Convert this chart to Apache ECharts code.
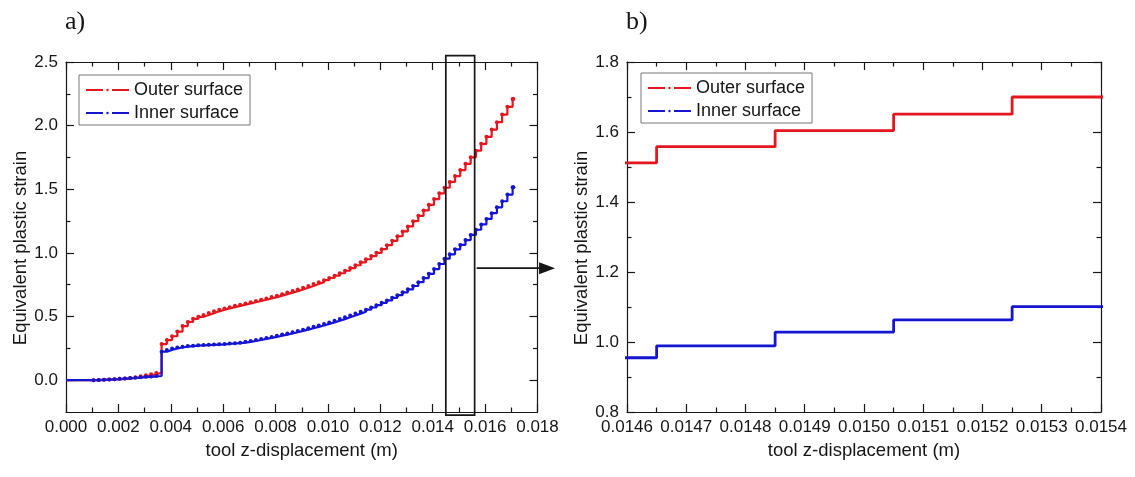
<!DOCTYPE html>
<html>
<head>
<meta charset="utf-8">
<script src="https://cdn.jsdelivr.net/npm/echarts@6/dist/echarts.min.js"></script>
<style>
  html, body { margin: 0; padding: 0; background: #fff; }
  #chart { width: 1135px; height: 477px; }
</style>
</head>
<body>
<div id="chart"></div>
<script>
// Tool z-displacement (m): start, pre-contact points, then one point per 0.2 mm step
const zDisp = [
  0, 0.00105, 0.00125, 0.00145, 0.00165, 0.00185, 0.00205, 0.00225, 0.00245, 0.00265, 0.00285, 0.00305, 0.00325, 0.00345,
  0.00365, 0.00385, 0.00405, 0.00425, 0.00445, 0.00465, 0.00485, 0.00505, 0.00525, 0.00545,
  0.00565, 0.00585, 0.00605, 0.00625, 0.00645, 0.00665, 0.00685, 0.00705, 0.00725, 0.00745,
  0.00765, 0.00785, 0.00805, 0.00825, 0.00845, 0.00865, 0.00885, 0.00905, 0.00925, 0.00945,
  0.00965, 0.00985, 0.01005, 0.01025, 0.01045, 0.01065, 0.01085, 0.01105, 0.01125, 0.01145,
  0.01165, 0.01185, 0.01205, 0.01225, 0.01245, 0.01265, 0.01285, 0.01305, 0.01325, 0.01345,
  0.01365, 0.01385, 0.01405, 0.01425, 0.01445, 0.01465, 0.01485, 0.01505, 0.01525, 0.01545,
  0.01565, 0.01585, 0.01605, 0.01625, 0.01645, 0.01665, 0.01685, 0.01705,
  0.01708
];

// Equivalent plastic strain on the outer surface
const outerStrain = [
  0, 0, 0.002, 0.004, 0.006, 0.008, 0.011, 0.014, 0.018, 0.023, 0.030, 0.038, 0.047, 0.057,
  0.284, 0.315, 0.345, 0.382, 0.425, 0.458, 0.482, 0.498, 0.512, 0.527,
  0.541, 0.553, 0.564, 0.574, 0.584, 0.593, 0.603, 0.612, 0.622, 0.632,
  0.642, 0.653, 0.664, 0.676, 0.688, 0.700, 0.713, 0.726, 0.740, 0.755,
  0.770, 0.786, 0.803, 0.821, 0.840, 0.860, 0.881, 0.903, 0.926, 0.950,
  0.975, 1.001, 1.029, 1.061, 1.095, 1.131, 1.169, 1.208, 1.249, 1.291,
  1.334, 1.378, 1.423, 1.468, 1.512, 1.558, 1.604, 1.651, 1.700, 1.751,
  1.803, 1.857, 1.912, 1.969, 2.027, 2.087, 2.148, 2.210,
  2.210
];

// Equivalent plastic strain on the inner surface
const innerStrain = [
  0, 0, 0.002, 0.004, 0.006, 0.008, 0.011, 0.014, 0.017, 0.020, 0.023, 0.026, 0.029, 0.033,
  0.224, 0.238, 0.249, 0.257, 0.263, 0.268, 0.271, 0.274, 0.276, 0.278,
  0.280, 0.282, 0.285, 0.288, 0.291, 0.295, 0.301, 0.308, 0.316, 0.324,
  0.332, 0.340, 0.349, 0.358, 0.367, 0.377, 0.387, 0.397, 0.408, 0.419,
  0.430, 0.442, 0.454, 0.467, 0.480, 0.494, 0.508, 0.523, 0.538, 0.554,
  0.571, 0.589, 0.608, 0.627, 0.647, 0.668, 0.690, 0.714, 0.740, 0.770,
  0.802, 0.836, 0.873, 0.913, 0.955, 0.989, 1.028, 1.063, 1.101, 1.141,
  1.182, 1.224, 1.267, 1.312, 1.358, 1.406, 1.458, 1.515,
  1.515
];

// Tick values, full stroke (a) and close-up (b)
const zTicksFull   = [0, 0.002, 0.004, 0.006, 0.008, 0.010, 0.012, 0.014, 0.016, 0.018];
const zMinorFull   = [0.001, 0.003, 0.005, 0.007, 0.009, 0.011, 0.013, 0.015, 0.017];
const epsTicksFull = [0, 0.5, 1.0, 1.5, 2.0, 2.5];
const epsMinorFull = [0.25, 0.75, 1.25, 1.75, 2.25];
const zTicksZoom   = [0.0146, 0.0147, 0.0148, 0.0149, 0.0150, 0.0151, 0.0152, 0.0153, 0.0154];
const zMinorZoom   = [0.01465, 0.01475, 0.01485, 0.01495, 0.01505, 0.01515, 0.01525, 0.01535];
const epsTicksZoom = [0.8, 1.0, 1.2, 1.4, 1.6, 1.8];
const epsMinorZoom = [0.9, 1.1, 1.3, 1.5, 1.7];

// Window of panel (a) that panel (b) enlarges, and the pointer towards (b)
const zoomWindowZ = [0.0145, 0.0156];
const zoomWindowEps = [-0.275, 2.55];
const pointerEps = 0.88;
const pointerTipZ = 0.01867;

const seriesNames = ['Outer surface', 'Inner surface'];

const SANS = '"Liberation Sans", Arial, sans-serif';
const INK = '#161616';
const RED = '#e4161e';
const BLUE = '#1515d2';

function frameAxes(dim, gridIndex, min, max, major, minor, decimals, name, nameGap, namePad) {
  const sides = dim === 'x' ? ['bottom', 'top'] : ['left', 'right'];
  const make = (position, ticks, len, withLine, withLabels) => ({
    type: 'value', gridIndex, min, max, position,
    axisLine: { show: withLine, onZero: false, lineStyle: { color: INK, width: 1.2 } },
    axisTick: { show: true, inside: true, length: len, customValues: ticks, lineStyle: { color: INK, width: 1.2 } },
    axisLabel: {
      show: withLabels, customValues: ticks, margin: dim === 'x' ? 7 : 8,
      formatter: v => Number(v).toFixed(decimals),
      color: INK, fontFamily: SANS, fontSize: 17
    },
    splitLine: { show: false },
    minorTick: { show: false },
    minorSplitLine: { show: false }
  });
  const main = make(sides[0], major, 8, true, true);
  main.name = name;
  main.nameLocation = 'middle';
  main.nameGap = nameGap;
  main.nameTextStyle = { color: INK, fontFamily: SANS, fontSize: 18.5, padding: namePad };
  return [
    main,
    make(sides[0], minor, 4.5, false, false),
    make(sides[1], major, 8, true, false),
    make(sides[1], minor, 4.5, false, false)
  ];
}

// The starting point at rest carries no sample mark
function steps(values) {
  return zDisp.map((z, i) => (i === 0 ? { value: [z, values[i]], symbol: 'none' } : [z, values[i]]));
}

// Stepped curve; the full-stroke panel also marks every sample point
function lineSeries(name, values, color, axisIdx, width, markSize) {
  return {
    name, type: 'line', step: 'end',
    symbol: markSize ? 'circle' : 'none', symbolSize: markSize || 0,
    showSymbol: !!markSize, showAllSymbol: true,
    xAxisIndex: axisIdx, yAxisIndex: axisIdx, clip: true,
    color, itemStyle: { color },
    lineStyle: { color, width },
    data: steps(values),
    silent: true
  };
}

function legendBox(left, top) {
  return {
    data: seriesNames, orient: 'vertical', left, top,
    selectedMode: false,
    itemWidth: 43, itemHeight: 3, itemGap: 3,
    padding: [5, 7, 2, 6],
    backgroundColor: '#fff', borderColor: '#777', borderWidth: 1,
    lineStyle: { width: 2, type: [17, 9] },
    textStyle: { color: INK, fontFamily: SANS, fontSize: 18, lineHeight: 20 }
  };
}

const chart = echarts.init(document.getElementById('chart'), null, { renderer: 'canvas' });

chart.setOption({
  animation: false,
  backgroundColor: '#fff',
  title: [
    { text: 'a)', left: 65, top: 9, padding: 0,
      textStyle: { fontFamily: '"Liberation Serif", "Times New Roman", serif', fontSize: 26, fontWeight: 'normal', color: INK } },
    { text: 'b)', left: 626, top: 9, padding: 0,
      textStyle: { fontFamily: '"Liberation Serif", "Times New Roman", serif', fontSize: 26, fontWeight: 'normal', color: INK } }
  ],
  legend: [legendBox(79, 75), legendBox(641, 73)],
  grid: [
    { left: 66, top: 62, width: 471.5, height: 350, outerBoundsMode: 'none' },
    { left: 627, top: 62, width: 474, height: 350, outerBoundsMode: 'none' }
  ],
  xAxis: [
    ...frameAxes('x', 0, 0, 0.018, zTicksFull, zMinorFull, 3, 'tool z-displacement (m)', 29, 0),
    ...frameAxes('x', 1, 0.0146, 0.0154, zTicksZoom, zMinorZoom, 4, 'tool z-displacement (m)', 29, 0)
  ],
  yAxis: [
    ...frameAxes('y', 0, -0.25, 2.5, epsTicksFull, epsMinorFull, 1, 'Equivalent plastic strain', 36, [0, 22, 0, 0]),
    ...frameAxes('y', 1, 0.8, 1.8, epsTicksZoom, epsMinorZoom, 1, 'Equivalent plastic strain', 36, [0, 22, 0, 0])
  ],
  series: [
    lineSeries(seriesNames[0], outerStrain, RED, 0, 2.2, 4),
    lineSeries(seriesNames[1], innerStrain, BLUE, 0, 2.2, 4),
    lineSeries(seriesNames[0], outerStrain, RED, 4, 2.8, 0),
    lineSeries(seriesNames[1], innerStrain, BLUE, 4, 2.8, 0)
  ]
});

// Frame around the enlarged window and the pointer to panel (b)
const toPx = v => chart.convertToPixel({ xAxisIndex: 0, yAxisIndex: 0 }, v);
const boxA = toPx([zoomWindowZ[0], zoomWindowEps[1]]);
const boxB = toPx([zoomWindowZ[1], zoomWindowEps[0]]);
const ptrA = toPx([zoomWindowZ[1], pointerEps]);
const ptrB = toPx([pointerTipZ, pointerEps]);

chart.setOption({
  graphic: [
    { type: 'rect', z: 100,
      shape: { x: boxA[0], y: boxA[1], width: boxB[0] - boxA[0], height: boxB[1] - boxA[1] },
      style: { fill: 'none', stroke: INK, lineWidth: 1.7 } },
    { type: 'line', z: 100,
      shape: { x1: ptrA[0] + 2, y1: ptrA[1], x2: ptrB[0] - 12, y2: ptrB[1] },
      style: { stroke: INK, lineWidth: 1.7 } },
    { type: 'polygon', z: 100,
      shape: { points: [[ptrB[0], ptrB[1]], [ptrB[0] - 16, ptrB[1] - 6], [ptrB[0] - 16, ptrB[1] + 6]] },
      style: { fill: INK } }
  ]
});
</script>
</body>
</html>
